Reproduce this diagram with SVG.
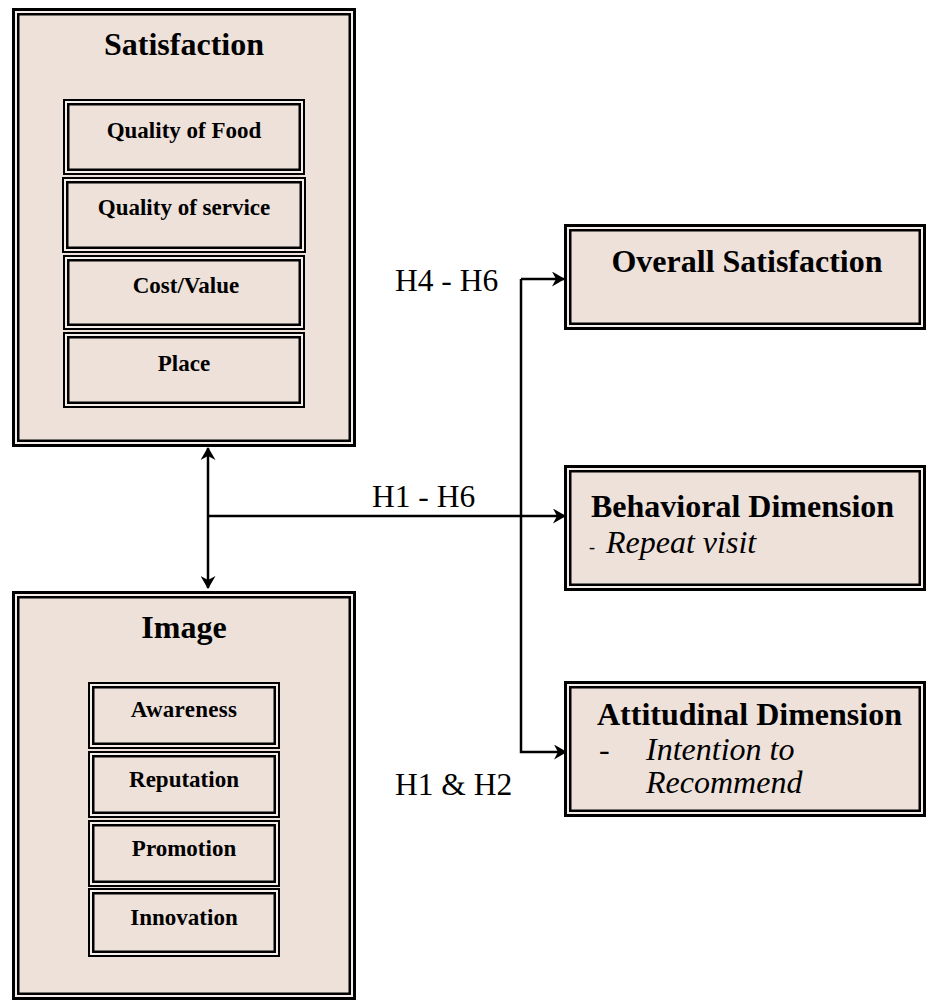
<svg xmlns="http://www.w3.org/2000/svg" width="928" height="1002" viewBox="0 0 928 1002">
  <style>
    .bg { fill: #ffffff; }
    .outerA { fill: #f5ede9; stroke: #000; stroke-width: 3; }
    .innerA { fill: #eee1da; stroke: #000; stroke-width: 2.5; }
    .outerB { fill: #f5ede9; stroke: #000; stroke-width: 2; }
    .innerB { fill: #eee1da; stroke: #000; stroke-width: 2.5; }
    .head { font-family: "Liberation Serif", "Times New Roman", serif; font-weight: bold; font-size: 32px; fill: #000; }
    .sub { font-family: "Liberation Serif", "Times New Roman", serif; font-weight: bold; font-size: 23px; fill: #000; text-anchor: middle; }
    .ital { font-family: "Liberation Serif", "Times New Roman", serif; font-style: italic; font-size: 32px; fill: #000; }
    .lbl { font-family: "Liberation Serif", "Times New Roman", serif; font-size: 31.5px; fill: #000; }
    .conn { fill: none; stroke: #000; stroke-width: 2.5; }
  </style>
  <defs>
    <marker id="arr" viewBox="0 0 13 15" refX="12" refY="7.5" markerWidth="13" markerHeight="15" markerUnits="userSpaceOnUse" orient="auto-start-reverse">
      <path d="M0,0 L13,7.5 L0,15 L4,7.5 z" fill="#000"/>
    </marker>
  </defs>
  <rect class="bg" x="0" y="0" width="928" height="1002"/>

  <!-- Satisfaction -->
  <g id="satisfaction">
    <rect class="outerA" x="13.5" y="9.5" width="341" height="436"/>
    <rect class="innerA" x="18.25" y="14.25" width="331.5" height="426.5"/>
    <text class="head" x="184" y="55" text-anchor="middle">Satisfaction</text>
  </g>
  <g id="quality-food">
    <rect class="outerB" x="64" y="100" width="240" height="74"/>
    <rect class="innerB" x="68.25" y="104.25" width="231.5" height="65.5"/>
    <text class="sub" x="184" y="138">Quality of Food</text>
  </g>
  <g id="quality-service">
    <rect class="outerB" x="63" y="178" width="242" height="74"/>
    <rect class="innerB" x="67.25" y="182.25" width="233.5" height="65.5"/>
    <text class="sub" x="184" y="215">Quality of service</text>
  </g>
  <g id="cost-value">
    <rect class="outerB" x="64" y="256" width="240" height="73"/>
    <rect class="innerB" x="68.25" y="260.25" width="231.5" height="64.5"/>
    <text class="sub" x="186" y="293">Cost/Value</text>
  </g>
  <g id="place">
    <rect class="outerB" x="64" y="333" width="240" height="74"/>
    <rect class="innerB" x="68.25" y="337.25" width="231.5" height="65.5"/>
    <text class="sub" x="184" y="371">Place</text>
  </g>

  <!-- Image -->
  <g id="image">
    <rect class="outerA" x="13.5" y="592.5" width="341" height="406"/>
    <rect class="innerA" x="18.25" y="597.25" width="331.5" height="396.5"/>
    <text class="head" x="184" y="638" text-anchor="middle">Image</text>
  </g>
  <g id="awareness">
    <rect class="outerB" x="89" y="683" width="190" height="65"/>
    <rect class="innerB" x="93.25" y="687.25" width="181.5" height="56.5"/>
    <text class="sub" x="184" y="717" letter-spacing="0.3">Awareness</text>
  </g>
  <g id="reputation">
    <rect class="outerB" x="89" y="752" width="190" height="65"/>
    <rect class="innerB" x="93.25" y="756.25" width="181.5" height="56.5"/>
    <text class="sub" x="184" y="787">Reputation</text>
  </g>
  <g id="promotion">
    <rect class="outerB" x="89" y="821" width="190" height="65"/>
    <rect class="innerB" x="93.25" y="825.25" width="181.5" height="56.5"/>
    <text class="sub" x="184" y="856">Promotion</text>
  </g>
  <g id="innovation">
    <rect class="outerB" x="89" y="889" width="190" height="67"/>
    <rect class="innerB" x="93.25" y="893.25" width="181.5" height="58.5"/>
    <text class="sub" x="184" y="925">Innovation</text>
  </g>

  <!-- Right boxes -->
  <g id="overall-satisfaction">
    <rect class="outerA" x="565.5" y="225.5" width="359" height="103"/>
    <rect class="innerA" x="570.25" y="230.25" width="349.5" height="93.5"/>
    <text class="head" x="747" y="272" text-anchor="middle">Overall Satisfaction</text>
  </g>
  <g id="behavioral">
    <rect class="outerA" x="565.5" y="466.5" width="359" height="123"/>
    <rect class="innerA" x="570.25" y="471.25" width="349.5" height="113.5"/>
    <text class="head" x="591" y="517">Behavioral Dimension</text>
    <text class="ital" x="589" y="553"><tspan font-size="18" font-style="normal">-</tspan><tspan x="606">Repeat visit</tspan></text>
  </g>
  <g id="attitudinal">
    <rect class="outerA" x="565.5" y="682.5" width="359" height="133"/>
    <rect class="innerA" x="570.25" y="687.25" width="349.5" height="123.5"/>
    <text class="head" x="597" y="725">Attitudinal Dimension</text>
    <text class="ital" x="599" y="760"><tspan font-style="normal">-</tspan><tspan x="646">Intention to</tspan></text>
    <text class="ital" x="646" y="793">Recommend</text>
  </g>

  <!-- Connectors -->
  <g id="connectors">
    <path class="conn" d="M208,448 V588" marker-start="url(#arr)" marker-end="url(#arr)"/>
    <path class="conn" d="M208,516 H565" marker-end="url(#arr)"/>
    <path class="conn" d="M521,279 H564" marker-end="url(#arr)"/>
    <path class="conn" d="M521,279 V752 H566" marker-end="url(#arr)"/>
    <text class="lbl" x="395" y="291">H4 - H6</text>
    <text class="lbl" x="372" y="507">H1 - H6</text>
    <text class="lbl" x="395" y="795">H1 &amp; H2</text>
  </g>
</svg>
